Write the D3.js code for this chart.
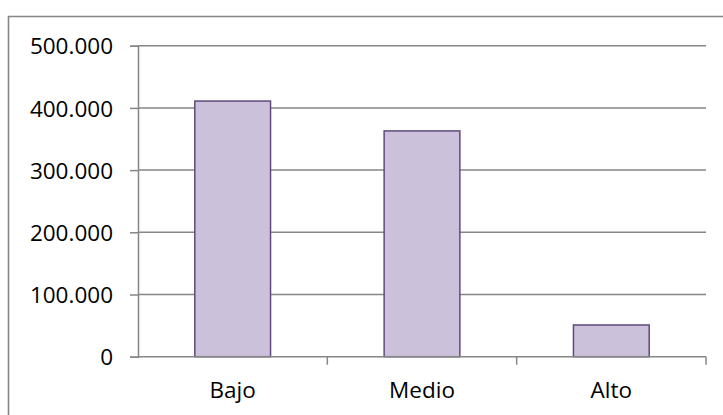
<!DOCTYPE html>
<html>
<head>
<meta charset="utf-8">
<script src="https://cdn.jsdelivr.net/npm/d3@7"></script>
<style>
  body { margin: 0; background: #fff; }
  svg text { font-family: "Open Sans", "Noto Sans", sans-serif; fill: #000; }
</style>
</head>
<body>
<svg id="chart" width="723" height="415"></svg>
<script>
// data
const categories = ["Bajo", "Medio", "Alto"];
const values = [411000, 363000, 51000];
const yTicks = [0, 100000, 200000, 300000, 400000, 500000];

let width = 723, height = 415;
let plot = {left: 138, right: 706, top: 45.7, bottom: 356.7};

let svg = d3.select("#chart");

// outer frame (only top and left visible, rest runs off the picture)
svg.append("path")
  .attr("d", `M8.5,${height + 2}V16.5H${width + 2}`)
  .attr("fill", "none")
  .attr("stroke", "#868686")
  .attr("stroke-width", 1.6);

let x = d3.scaleBand()
  .domain(categories)
  .range([plot.left, plot.right])
  .paddingInner(0.6)
  .paddingOuter(0.3);

let y = d3.scaleLinear()
  .domain([0, 500000])
  .range([plot.bottom, plot.top]);

let fmt = v => v === 0 ? "0" : d3.format(",")(v).replace(/,/g, ".");

// gridlines
svg.append("g")
  .selectAll("line")
  .data(yTicks.filter(d => d > 0))
  .enter().append("line")
    .attr("x1", plot.left).attr("x2", plot.right)
    .attr("y1", d => y(d)).attr("y2", d => y(d))
    .attr("stroke", "#868686")
    .attr("stroke-width", 1.5);

// y axis
let yAxis = svg.append("g")
  .attr("transform", `translate(${plot.left},0)`)
  .call(d3.axisLeft(y).tickValues(yTicks).tickSize(8).tickPadding(17).tickFormat(fmt));
yAxis.select(".domain").attr("stroke", "#868686").attr("stroke-width", 1.5);
yAxis.selectAll(".tick line").attr("stroke", "#868686").attr("stroke-width", 1.5);
yAxis.selectAll(".tick text")
  .attr("font-size", 22.5)
  .attr("font-family", null)
  .attr("dy", "0.36em");

// bars
svg.append("g")
  .selectAll("rect")
  .data(values)
  .enter().append("rect")
    .attr("x", (d, i) => x(categories[i]))
    .attr("width", x.bandwidth())
    .attr("y", d => y(d))
    .attr("height", d => y(0) - y(d))
    .attr("fill", "#ccc1da")
    .attr("stroke", "#604a7b")
    .attr("stroke-width", 1.5);

// x axis: ticks sit on band boundaries
let boundaries = d3.range(categories.length + 1).map(i => plot.left + i * (plot.right - plot.left) / categories.length);
let xAxis = svg.append("g");
xAxis.append("line")
  .attr("x1", plot.left).attr("x2", plot.right)
  .attr("y1", plot.bottom).attr("y2", plot.bottom)
  .attr("stroke", "#868686").attr("stroke-width", 1.5);
xAxis.selectAll(".xt")
  .data(boundaries.slice(1))
  .enter().append("line")
    .attr("class", "xt")
    .attr("x1", d => d).attr("x2", d => d)
    .attr("y1", plot.bottom).attr("y2", plot.bottom + 8)
    .attr("stroke", "#868686").attr("stroke-width", 1.5);
xAxis.selectAll("text")
  .data(categories)
  .enter().append("text")
    .attr("x", d => x(d) + x.bandwidth() / 2)
    .attr("y", 398)
    .attr("text-anchor", "middle")
    .attr("font-size", 22.5)
    .text(d => d);
</script>
</body>
</html>
